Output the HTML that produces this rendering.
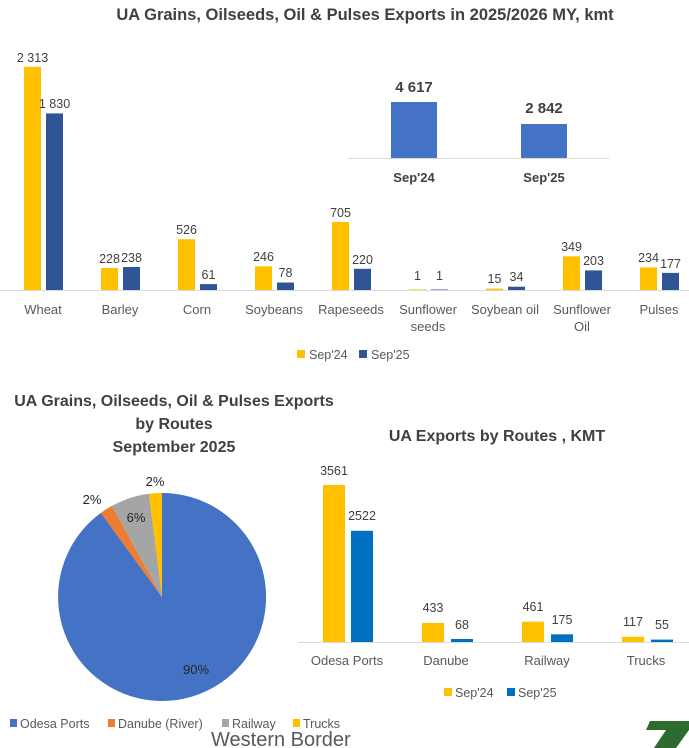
<!DOCTYPE html>
<html><head><meta charset="utf-8"><style>
html,body{margin:0;padding:0;background:#fff;}
svg{display:block;font-family:"Liberation Sans",sans-serif;}
.t{font-weight:bold;fill:#404040;}
.v{font-size:12.5px;fill:#404040;text-anchor:middle;}
.c{font-size:13px;fill:#595959;text-anchor:middle;}
</style></head><body>
<svg width="689" height="748" viewBox="0 0 689 748">
<text class="t" x="365" y="20" font-size="16.5" text-anchor="middle">UA Grains, Oilseeds, Oil &amp; Pulses Exports in 2025/2026 MY, kmt</text>
<line x1="0" y1="290.5" x2="689" y2="290.5" stroke="#d9d9d9" stroke-width="1"/>
<g fill="#FFC000">
<rect x="24" y="66.8" width="17" height="223.2"/><rect x="101" y="268" width="17" height="22"/><rect x="178" y="239.2" width="17" height="50.8"/><rect x="255" y="266.3" width="17" height="23.7"/><rect x="332" y="222" width="17" height="68"/><rect x="409" y="289.5" width="17" height="0.5"/><rect x="486" y="288.6" width="17" height="1.4"/><rect x="563" y="256.3" width="17" height="33.7"/><rect x="640" y="267.4" width="17" height="22.6"/>
</g>
<g fill="#2F5597">
<rect x="46" y="113.4" width="17" height="176.6"/><rect x="123" y="267" width="17" height="23"/><rect x="200" y="284.1" width="17" height="5.9"/><rect x="277" y="282.5" width="17" height="7.5"/><rect x="354" y="268.8" width="17" height="21.2"/><rect x="431" y="289.5" width="17" height="0.5"/><rect x="508" y="286.7" width="17" height="3.3"/><rect x="585" y="270.4" width="17" height="19.6"/><rect x="662" y="272.9" width="17" height="17.1"/>
</g>
<g class="v">
<text x="32.5" y="62">2 313</text><text x="54.5" y="108">1 830</text>
<text x="109.5" y="263">228</text><text x="131.5" y="262">238</text>
<text x="186.5" y="234">526</text><text x="208.5" y="279">61</text>
<text x="263.5" y="261">246</text><text x="285.5" y="277">78</text>
<text x="340.5" y="217">705</text><text x="362.5" y="264">220</text>
<text x="417.5" y="280">1</text><text x="439.5" y="280">1</text>
<text x="494.5" y="283">15</text><text x="516.5" y="281">34</text>
<text x="571.5" y="251">349</text><text x="593.5" y="265">203</text>
<text x="648.5" y="262">234</text><text x="670.5" y="268">177</text>
</g>
<g class="c">
<text x="43" y="314">Wheat</text><text x="120" y="314">Barley</text><text x="197" y="314">Corn</text><text x="274" y="314">Soybeans</text><text x="351" y="314">Rapeseeds</text><text x="428" y="314">Sunflower</text><text x="428" y="331">seeds</text><text x="505" y="314">Soybean oil</text><text x="582" y="314">Sunflower</text><text x="582" y="331">Oil</text><text x="659" y="314">Pulses</text>
</g>
<rect x="297" y="350" width="8" height="8" fill="#FFC000"/><text x="309" y="359" font-size="12.5" fill="#595959">Sep'24</text>
<rect x="359" y="350" width="8" height="8" fill="#2F5597"/><text x="371" y="359" font-size="12.5" fill="#595959">Sep'25</text>
<!-- inset -->
<line x1="348" y1="158.5" x2="609" y2="158.5" stroke="#d9d9d9"/>
<rect x="391" y="102" width="46" height="56" fill="#4472C4"/>
<rect x="521" y="124" width="46" height="34" fill="#4472C4"/>
<text class="t" x="414" y="92" font-size="15" text-anchor="middle">4 617</text>
<text class="t" x="544" y="113" font-size="15" text-anchor="middle">2 842</text>
<text class="t" x="414" y="182" font-size="13" text-anchor="middle">Sep'24</text>
<text class="t" x="544" y="182" font-size="13" text-anchor="middle">Sep'25</text>
<!-- pie -->
<text class="t" x="174" y="406" font-size="16" text-anchor="middle">UA Grains, Oilseeds, Oil &amp; Pulses Exports</text>
<text class="t" x="174" y="429" font-size="16" text-anchor="middle">by Routes</text>
<text class="t" x="174" y="452" font-size="16" text-anchor="middle">September 2025</text>
<path d="M162,597 L162,493 A104,104 0 1 1 100.9,512.9 Z" fill="#4472C4"/>
<path d="M162,597 L100.9,512.9 A104,104 0 0 1 111.9,505.9 Z" fill="#ED7D31"/>
<path d="M162,597 L111.9,505.9 A104,104 0 0 1 149,493.8 Z" fill="#A5A5A5"/>
<path d="M162,597 L149,493.8 A104,104 0 0 1 162,493 Z" fill="#FFC000"/>
<g font-size="13" fill="#262626" text-anchor="middle">
<text x="196" y="674">90%</text><text x="136" y="522">6%</text><text x="92" y="504">2%</text><text x="155" y="486">2%</text>
</g>
<g font-size="12.5" fill="#595959">
<rect x="10" y="719" width="7" height="8" fill="#4472C4"/><text x="20" y="728">Odesa Ports</text>
<rect x="108" y="719" width="7" height="8" fill="#ED7D31"/><text x="118" y="728">Danube (River)</text>
<rect x="222" y="719" width="7" height="8" fill="#A5A5A5"/><text x="232" y="728">Railway</text>
<rect x="293" y="719" width="7" height="8" fill="#FFC000"/><text x="303" y="728">Trucks</text>
</g>
<text x="211" y="746" font-size="20" fill="#595959">Western Border</text>
<polygon points="650,721 689,721 689,730 676,748 654,748 666,730 646,730" fill="#2E6B2E"/>
<!-- right chart -->
<text class="t" x="497" y="441" font-size="16" text-anchor="middle">UA Exports by Routes , KMT</text>
<line x1="298" y1="642.5" x2="689" y2="642.5" stroke="#d9d9d9"/>
<g fill="#FFC000">
<rect x="323" y="485" width="22" height="157"/><rect x="422" y="622.9" width="22" height="19.1"/><rect x="522" y="621.7" width="22" height="20.3"/><rect x="622" y="636.8" width="22" height="5.2"/>
</g>
<g fill="#0070C0">
<rect x="351" y="530.8" width="22" height="111.2"/><rect x="451" y="639" width="22" height="3"/><rect x="551" y="634.3" width="22" height="7.7"/><rect x="651" y="639.6" width="22" height="2.4"/>
</g>
<g class="v">
<text x="334" y="475">3561</text><text x="362" y="520">2522</text>
<text x="433" y="612">433</text><text x="462" y="629">68</text>
<text x="533" y="611">461</text><text x="562" y="624">175</text>
<text x="633" y="626">117</text><text x="662" y="629">55</text>
</g>
<g class="c">
<text x="347" y="665">Odesa Ports</text><text x="446" y="665">Danube</text><text x="547" y="665">Railway</text><text x="646" y="665">Trucks</text>
</g>
<rect x="444" y="688" width="8" height="8" fill="#FFC000"/><text x="455" y="697" font-size="12.5" fill="#595959">Sep'24</text>
<rect x="507" y="688" width="8" height="8" fill="#0070C0"/><text x="518" y="697" font-size="12.5" fill="#595959">Sep'25</text>
</svg>
</body></html>
